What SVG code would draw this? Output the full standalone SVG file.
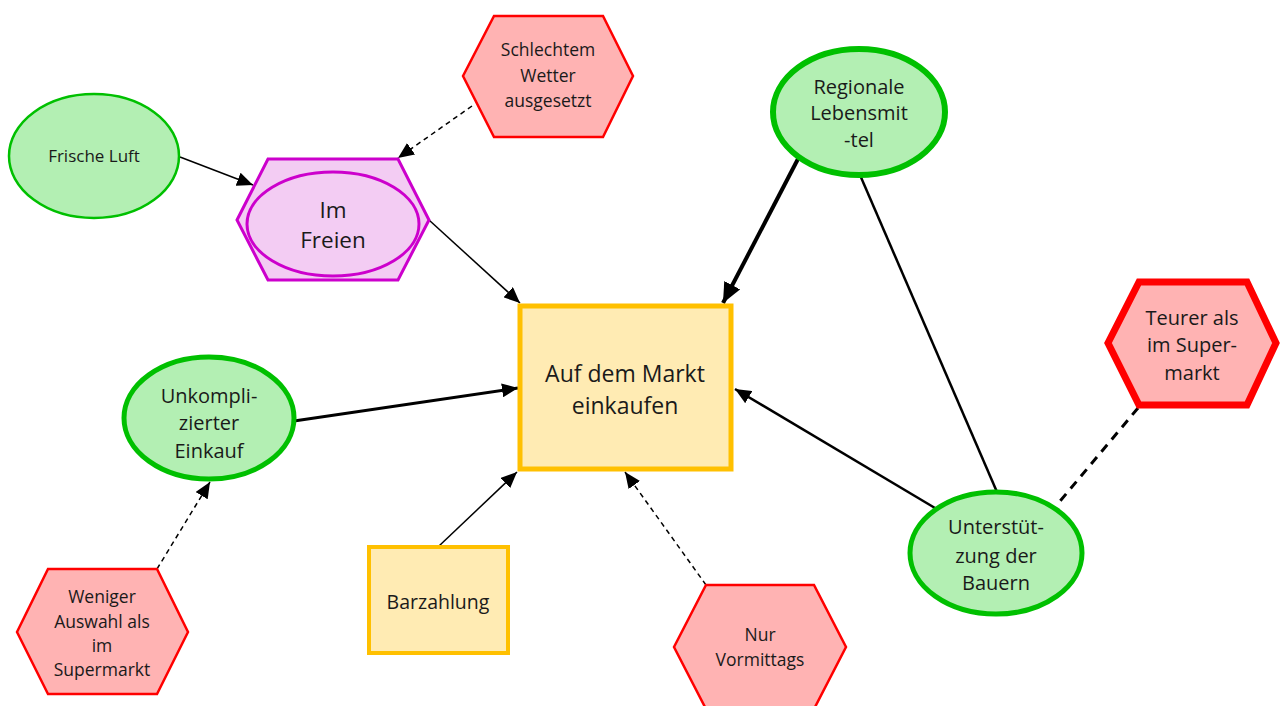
<svg xmlns="http://www.w3.org/2000/svg" width="1283" height="706" viewBox="0 0 1283 706">
<style>
text{font-family:"Open Sans","Noto Sans","Liberation Sans",sans-serif;fill:#1a1a1a;text-anchor:middle}
.green{fill:#B3EFB3;stroke:#00C000}
.red{fill:#FFB3B3;stroke:#FF0000}
.yel{fill:#FFEBB3;stroke:#FFC000}
.pink{fill:#F3CCF3;stroke:#CC00CC}
.c{stroke:#000;fill:none}
</style>
<defs>
<marker id="a" markerUnits="userSpaceOnUse" markerWidth="18" markerHeight="14" refX="16" refY="7" orient="auto"><path d="M0,0 L16,7 L0,14 Z" fill="#000"/></marker>
<marker id="b" markerUnits="userSpaceOnUse" markerWidth="22" markerHeight="18" refX="20" refY="9" orient="auto"><path d="M0,0 L20,9 L0,18 Z" fill="#000"/></marker>
</defs>
<g id="connectors">
<line class="c" x1="180" y1="157" x2="253" y2="185" stroke-width="1.5" marker-end="url(#a)"/>
<line class="c" x1="472" y1="106" x2="398" y2="158" stroke-width="1.5" stroke-dasharray="5,4" marker-end="url(#a)"/>
<line class="c" x1="429" y1="220" x2="520" y2="303" stroke-width="1.5" marker-end="url(#a)"/>
<line class="c" x1="799" y1="157" x2="723" y2="303" stroke-width="4" marker-end="url(#b)"/>
<line class="c" x1="860" y1="175" x2="997" y2="492" stroke-width="2.5"/>
<line class="c" x1="935" y1="508" x2="735" y2="389" stroke-width="2.5" marker-end="url(#a)"/>
<line class="c" x1="1138" y1="408" x2="1056" y2="506" stroke-width="3" stroke-dasharray="9,7"/>
<line class="c" x1="294" y1="421" x2="518" y2="388" stroke-width="3" marker-end="url(#a)"/>
<line class="c" x1="157" y1="569" x2="210" y2="482" stroke-width="1.5" stroke-dasharray="5,4" marker-end="url(#a)"/>
<line class="c" x1="439" y1="546" x2="517" y2="472" stroke-width="1.5" marker-end="url(#a)"/>
<line class="c" x1="706" y1="585" x2="625" y2="472" stroke-width="1.5" stroke-dasharray="5,4" marker-end="url(#a)"/>
</g>
<g id="markt">
<rect class="yel" x="520" y="306" width="211" height="163" stroke-width="5"/>
<text font-size="23" x="625" y="382">Auf dem Markt</text>
<text font-size="23" x="625" y="414">einkaufen</text>
</g>
<g id="imfreien">
<polygon class="pink" points="237,220 268,159 398,159 429,220 398,280 268,280" stroke-width="3"/>
<ellipse class="pink" cx="333" cy="224" rx="86" ry="52" stroke-width="3"/>
<text font-size="22.5" x="333" y="218">Im</text>
<text font-size="22.5" x="333" y="248">Freien</text>
</g>
<g id="frischeluft">
<ellipse class="green" cx="94" cy="156" rx="85" ry="62" stroke-width="2.5"/>
<text font-size="17" x="94" y="162">Frische Luft</text>
</g>
<g id="schlechtem">
<polygon class="red" points="463,76 494,16 603,16 633,76 603,137 494,137" stroke-width="2.5"/>
<text font-size="17.5" x="548" y="56">Schlechtem</text>
<text font-size="17.5" x="548" y="82">Wetter</text>
<text font-size="17.5" x="548" y="107">ausgesetzt</text>
</g>
<g id="regionale">
<ellipse class="green" cx="859" cy="112" rx="86" ry="63" stroke-width="6"/>
<text font-size="20" x="859" y="94">Regionale</text>
<text font-size="20" x="859" y="120">Lebensmit</text>
<text font-size="20" x="859" y="147">-tel</text>
</g>
<g id="teurer">
<polygon class="red" points="1108,343 1139,282 1247,282 1276,343 1247,405 1139,405" stroke-width="7"/>
<text font-size="20" x="1192" y="325">Teurer als</text>
<text font-size="20" x="1192" y="352">im Super-</text>
<text font-size="20" x="1192" y="380">markt</text>
</g>
<g id="unterstuetzung">
<ellipse class="green" cx="996" cy="553" rx="86" ry="61" stroke-width="5"/>
<text font-size="20" x="996" y="534">Unterstüt-</text>
<text font-size="20" x="996" y="563">zung der</text>
<text font-size="20" x="996" y="590">Bauern</text>
</g>
<g id="unkompliziert">
<ellipse class="green" cx="209" cy="418" rx="85" ry="61" stroke-width="5"/>
<text font-size="20" x="209" y="403">Unkompli-</text>
<text font-size="20" x="209" y="430">zierter</text>
<text font-size="20" x="209" y="458">Einkauf</text>
</g>
<g id="weniger">
<polygon class="red" points="17,632 48,569 157,569 188,632 157,694 48,694" stroke-width="2.5"/>
<text font-size="17.5" x="102" y="603">Weniger</text>
<text font-size="17.5" x="102" y="628">Auswahl als</text>
<text font-size="17.5" x="102" y="652">im</text>
<text font-size="17.5" x="102" y="676">Supermarkt</text>
</g>
<g id="barzahlung">
<rect class="yel" x="369" y="547" width="139" height="106" stroke-width="4"/>
<text font-size="19.5" x="438" y="609">Barzahlung</text>
</g>
<g id="nurvormittags">
<polygon class="red" points="674,647 706,585 814,585 846,647 814,709 706,709" stroke-width="2.5"/>
<text font-size="17.5" x="760" y="641">Nur</text>
<text font-size="17.5" x="760" y="666">Vormittags</text>
</g>
</svg>
